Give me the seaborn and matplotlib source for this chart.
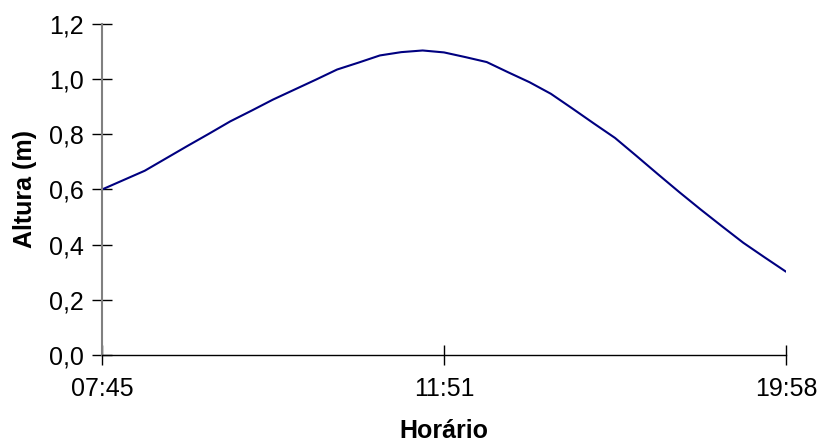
import pandas as pd
import seaborn as sns
import matplotlib.pyplot as plt
from matplotlib.ticker import FuncFormatter

# altura da maré (m), um valor por leitura
altura = [0.600, 0.634, 0.668, 0.713, 0.758, 0.802, 0.847, 0.886, 0.926,
          0.962, 0.998, 1.035, 1.060, 1.086, 1.098, 1.104, 1.097, 1.080,
          1.062, 1.025, 0.989, 0.947, 0.894, 0.840, 0.787, 0.722, 0.656,
          0.591, 0.528, 0.467, 0.407, 0.354, 0.302]
tick_pos = [0, 16, 32]
tick_labels = ['07:45', '11:51', '19:58']

df = pd.DataFrame({'leitura': range(len(altura)), 'altura': altura})

sns.set_style('white')
plt.rcParams['font.family'] = ['Liberation Sans', 'DejaVu Sans']

fig = plt.figure(figsize=(8.2, 4.42), dpi=100)
ax = fig.add_axes([102 / 820, 1 - 355 / 442, (786 - 102) / 820, (355 - 24) / 442])

sns.lineplot(data=df, x='leitura', y='altura', color='#000080', linewidth=1.5, ax=ax)

ax.set_xlim(0, len(altura) - 1)
ax.set_ylim(0, 1.2)
ax.set_yticks([0, 0.2, 0.4, 0.6, 0.8, 1.0, 1.2])
ax.yaxis.set_major_formatter(FuncFormatter(lambda v, p: f'{v:.1f}'.replace('.', ',')))
ax.set_xticks(tick_pos)
ax.set_xticklabels(tick_labels)

for s in ['top', 'right']:
    ax.spines[s].set_visible(False)
ax.spines['left'].set_color('#808080')
ax.spines['left'].set_linewidth(1.5)
ax.spines['bottom'].set_color('black')
ax.spines['bottom'].set_linewidth(1.0)

ax.tick_params(axis='both', direction='inout', length=14, width=1, color='black',
               labelsize=18, labelcolor='black', left=True, bottom=True)
ax.tick_params(axis='y', pad=6)
ax.tick_params(axis='x', pad=9)

ax.set_xlabel('Horário', fontsize=18, fontweight='bold', labelpad=13, color='black')
ax.set_ylabel('Altura (m)', fontsize=18, fontweight='bold', labelpad=9, color='black')

fig.savefig('out.png', dpi=100)
